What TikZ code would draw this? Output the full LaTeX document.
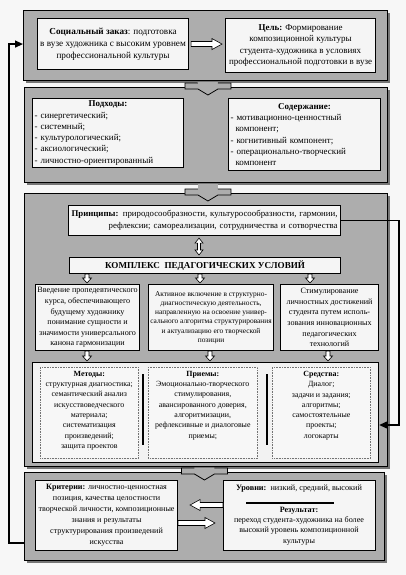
\documentclass[tikz,border=0pt]{standalone}
\usepackage{fontspec}
\setmainfont{Liberation Serif}
\usetikzlibrary{calc,shadows,arrows.meta}
\newcommand\myfs[2]{\fontsize{#1}{#2}\selectfont}
% hollow block arrows: from, to, shaft half, head half, head length
\newcommand\myarrR[5]{\draw[harrow] ($(#1)+(0,-#3)$) -- ($(#2)+(-#5,-#3)$) -- ($(#2)+(-#5,-#4)$) -- (#2) -- ($(#2)+(-#5,#4)$) -- ($(#2)+(-#5,#3)$) -- ($(#1)+(0,#3)$) -- cycle;}
\newcommand\myarrL[5]{\draw[harrow] ($(#1)+(0,-#3)$) -- ($(#2)+(#5,-#3)$) -- ($(#2)+(#5,-#4)$) -- (#2) -- ($(#2)+(#5,#4)$) -- ($(#2)+(#5,#3)$) -- ($(#1)+(0,#3)$) -- cycle;}
\newcommand\myarrD[5]{\draw[harrow] ($(#1)+(-#3,0)$) -- ($(#2)+(-#3,-#5)$) -- ($(#2)+(-#4,-#5)$) -- (#2) -- ($(#2)+(#4,-#5)$) -- ($(#2)+(#3,-#5)$) -- ($(#1)+(#3,0)$) -- cycle;}
\newcommand\myarrUD[5]{\draw[harrow] (#1) -- ($(#1)+(#4,#5)$) -- ($(#1)+(#3,#5)$) -- ($(#2)+(#3,-#5)$) -- ($(#2)+(#4,-#5)$) -- (#2) -- ($(#2)+(-#4,-#5)$) -- ($(#2)+(-#3,-#5)$) -- ($(#1)+(-#3,#5)$) -- ($(#1)+(-#4,#5)$) -- cycle;}
% chevron between panels: #1 lower panel top point, #2 upper panel bottom point
\newcommand\mychev[2]{%
  \fill[black!32] ($(#2)+(-10,1)$) rectangle ($(#1)+(10,-3)$);
  \filldraw[chev] ($(#1)+(-10,-4)$) -- ($(#1)+(-23,-4)$) -- ($(#1)+(-23,2)$) -- ($(#1)+(-10,2)$) -- ($(#1)+(0,8)$) -- ($(#1)+(10,2)$) -- ($(#1)+(23,2)$) -- ($(#1)+(23,-4)$) -- ($(#1)+(10,-4)$);}
\begin{document}
\begin{tikzpicture}[x=1pt,y=-1pt,
  panel/.style={draw=black, line width=0.9pt, fill=black!32, anchor=north west, inner sep=0pt,
    drop shadow={shadow xshift=2.5pt, shadow yshift=-2.5pt, fill=black!75, opacity=0.7}},
  box/.style={draw=black, line width=1.1pt, fill=black!4, anchor=north west, inner sep=0pt, align=center},
  dbox/.style={draw=black!55, densely dotted, line width=0.6pt, fill=black!3, anchor=north west, inner sep=0pt},
  txt/.style={inner sep=0pt, align=center},
  harrow/.style={draw=black, fill=white, line width=0.6pt, line join=miter},
  chev/.style={draw=black, fill=black!32, line width=0.8pt, line join=miter},
  fb/.style={draw=black, line width=1.3pt, -{Triangle[length=8pt,width=7pt]}},
  bar/.style={line width=1.6pt}
]
\useasboundingbox (0,0) rectangle (406,575);
\fill[black!3] (0,0) rectangle (406,575);

% panels
\node[panel, minimum width=364pt, minimum height=70pt] (p1) at (23,10) {};
\node[panel, minimum width=363pt, minimum height=95pt] (p2) at (24,87) {};
\node[panel, minimum width=363pt, minimum height=273pt] (p3) at (24,193) {};
\node[panel, minimum width=360pt, minimum height=88pt] (p4) at (24,472) {};

\mychev{$(p2.north)+(2,0)$}{$(p1.south)+(2,0)$}
\mychev{$(p3.north)+(2,0)$}{$(p2.south)+(2,0)$}
\mychev{$(p4.north)+(0,0)$}{$(p3.south)+(0,0)$}

% panel 1
\node[box, minimum width=151pt, minimum height=51pt, font=\myfs{9.2}{11.8}] (s1) at (37,18)
  {\textbf{Социальный заказ}: подготовка\\в вузе художника с высоким уровнем\\профессиональной культуры};
\node[box, minimum width=150pt, minimum height=54pt, font=\myfs{9}{11.6}] (goal) at (225,18)
  {\textbf{Цель:} Формирование\\композиционной культуры\\студента-художника в условиях\\профессиональной подготовки в вузе};
\coordinate (a1) at ($(s1.east)+(2,0)$);
\coordinate (a2) at ($(goal.west |- a1)+(-3,0)$);
\myarrR{a1}{a2}{2.5}{5.5}{10}

% panel 2
\node[box, minimum width=151pt, minimum height=69pt, text width=147pt, align=left, font=\myfs{9}{11.3}] (ap) at (32,98)
  {\makebox[147pt]{\textbf{Подходы:}}\\- синергетический;\\- системный;\\- культурологический;\\- аксиологический;\\- личностно-ориентированный};
\node[box, minimum width=152pt, minimum height=72pt, text width=148pt, align=left, font=\myfs{9}{11.3}] (ct) at (228,98)
  {\makebox[148pt]{\textbf{Содержание:}}\\- мотивационно-ценностный\\\hspace*{5pt}компонент;\\- когнитивный компонент;\\- операционально-творческий\\\hspace*{5pt}компонент};

% panel 3
\node[box, minimum width=272pt, minimum height=30pt, text width=266pt, align=right, font=\myfs{8.8}{12}] (pr) at (68,205)
  {\makebox[266pt][s]{\textbf{Принципы:} природосообразности, культуросообразности, гармонии,}\\рефлексии; самореализации, сотрудничества и сотворчества};
\node[box, minimum width=271pt, minimum height=16pt, font=\bfseries\myfs{9.1}{10}] (kp) at (69,257)
  {КОМПЛЕКС\ \ ПЕДАГОГИЧЕСКИХ УСЛОВИЙ};
\coordinate (d1) at ($(199,0 |- pr.south)+(0,2)$);
\coordinate (d2) at ($(199,0 |- kp.north)+(0,-2)$);
\myarrUD{d1}{d2}{1.5}{4}{5}

\node[box, minimum width=104pt, minimum height=66pt, font=\myfs{8.1}{10.6}] (ka) at (35,284)
  {Введение пропедевтического\\курса, обеспечивающего\\будущему художнику\\понимание сущности и\\значимости универсального\\канона гармонизации};
\node[box, minimum width=125pt, minimum height=66pt, font=\myfs{7.4}{9.3}] (kb) at (148,284)
  {Активное включение в структурно-\\диагностическую деятельность,\\направленную на освоение универ-\\сального алгоритма структурирования\\и актуализацию его творческой\\позиции};
\node[box, minimum width=98pt, minimum height=66pt, font=\myfs{8.1}{10.6}] (kc) at (280,284)
  {Стимулирование\\личностных достижений\\студента путем исполь-\\зования инновационных\\педагогических\\технологий};

\foreach \xx/\nm in {87/ka,200/kb,310/kc}{
  \coordinate (u1) at (\xx,0 |- kp.south);
  \coordinate (u2) at ($(\xx,0 |- \nm.north)+(0,-1)$);
  \myarrD{u1}{u2}{2}{4.5}{5}
}

\node[box, fill=black!5, line width=1.2pt, minimum width=346pt, minimum height=100pt] (mb) at (32,362) {};
\foreach \xx/\nm in {87/ka,210/kb,328/kc}{
  \coordinate (v1) at (\xx,0 |- \nm.south);
  \coordinate (v2) at ($(\xx,0 |- mb.north)+(0,-1)$);
  \myarrD{v1}{v2}{2}{4.5}{5}
}
\node[dbox, minimum width=98pt, minimum height=91pt] (dm) at (40,367) {};
\node[dbox, minimum width=109pt, minimum height=91pt] (dp) at (148,367) {};
\node[dbox, minimum width=98pt, minimum height=91pt] (ds) at (272,367) {};
\node[txt, anchor=north, font=\myfs{7.9}{10.3}] (tm) at ($(dm.north)+(0,4)$)
  {\textbf{Методы:}\\структурная диагностика;\\семантический анализ\\искусствоведческого\\материала;\\систематизация\\произведений;\\защита проектов};
\node[txt, anchor=north, font=\myfs{7.9}{10.3}] (tp) at ($(dp.north)+(0,4)$)
  {\textbf{Приемы:}\\Эмоционально-творческого\\стимулирования,\\авансированного доверия,\\алгоритмизации,\\рефлексивные и диалоговые\\приемы;};
\node[txt, anchor=north, font=\myfs{7.9}{10.3}] (ts) at ($(ds.north)+(0,4)$)
  {\textbf{Средства:}\\Диалог;\\задачи и задания;\\алгоритмы;\\самостоятельные\\проекты;\\логокарты};
\draw[bar] (143,374) -- (143,445);
\draw[bar] (267,374) -- (267,445);

% panel 4
\node[box, minimum width=142pt, minimum height=70pt, font=\myfs{8.1}{11}] (cr) at (35,480)
  {\textbf{Критерии:} личностно-ценностная\\позиция, качества целостности\\творческой личности, композиционные\\знания и результаты\\структурирования произведений\\искусства};
\node[box, minimum width=152pt, minimum height=70pt] (lv) at (223,480) {};
\node[txt, font=\myfs{8.2}{10}] (t1) at (299,489) {\textbf{Уровни:}\ \ низкий, средний, высокий};
\draw[line width=1.2pt] (246,503) -- (334,503);
\node[txt, anchor=north, font=\myfs{8.1}{10.2}] (t2) at (299,507)
  {\textbf{Результат:}\\переход студента-художника на более\\высокий уровень композиционной\\культуры};
\coordinate (c1) at (lv.west |- 0,505);
\coordinate (c2) at ($(cr.east |- c1)+(12,0)$);
\myarrL{c1}{c2}{2.5}{5.5}{10}
\coordinate (c3) at (cr.east |- 0,523);
\coordinate (c4) at ($(lv.west |- c3)+(-8,0)$);
\myarrR{c3}{c4}{2.5}{5.5}{10}

% feedback lines
\draw[fb] (pr.east) -| (399,425) -- (mb.east |- 0,425);
\draw[fb] (p4.west |- 0,543) -- (9,543) |- (p1.west |- s1.east);
\end{tikzpicture}
\end{document}
